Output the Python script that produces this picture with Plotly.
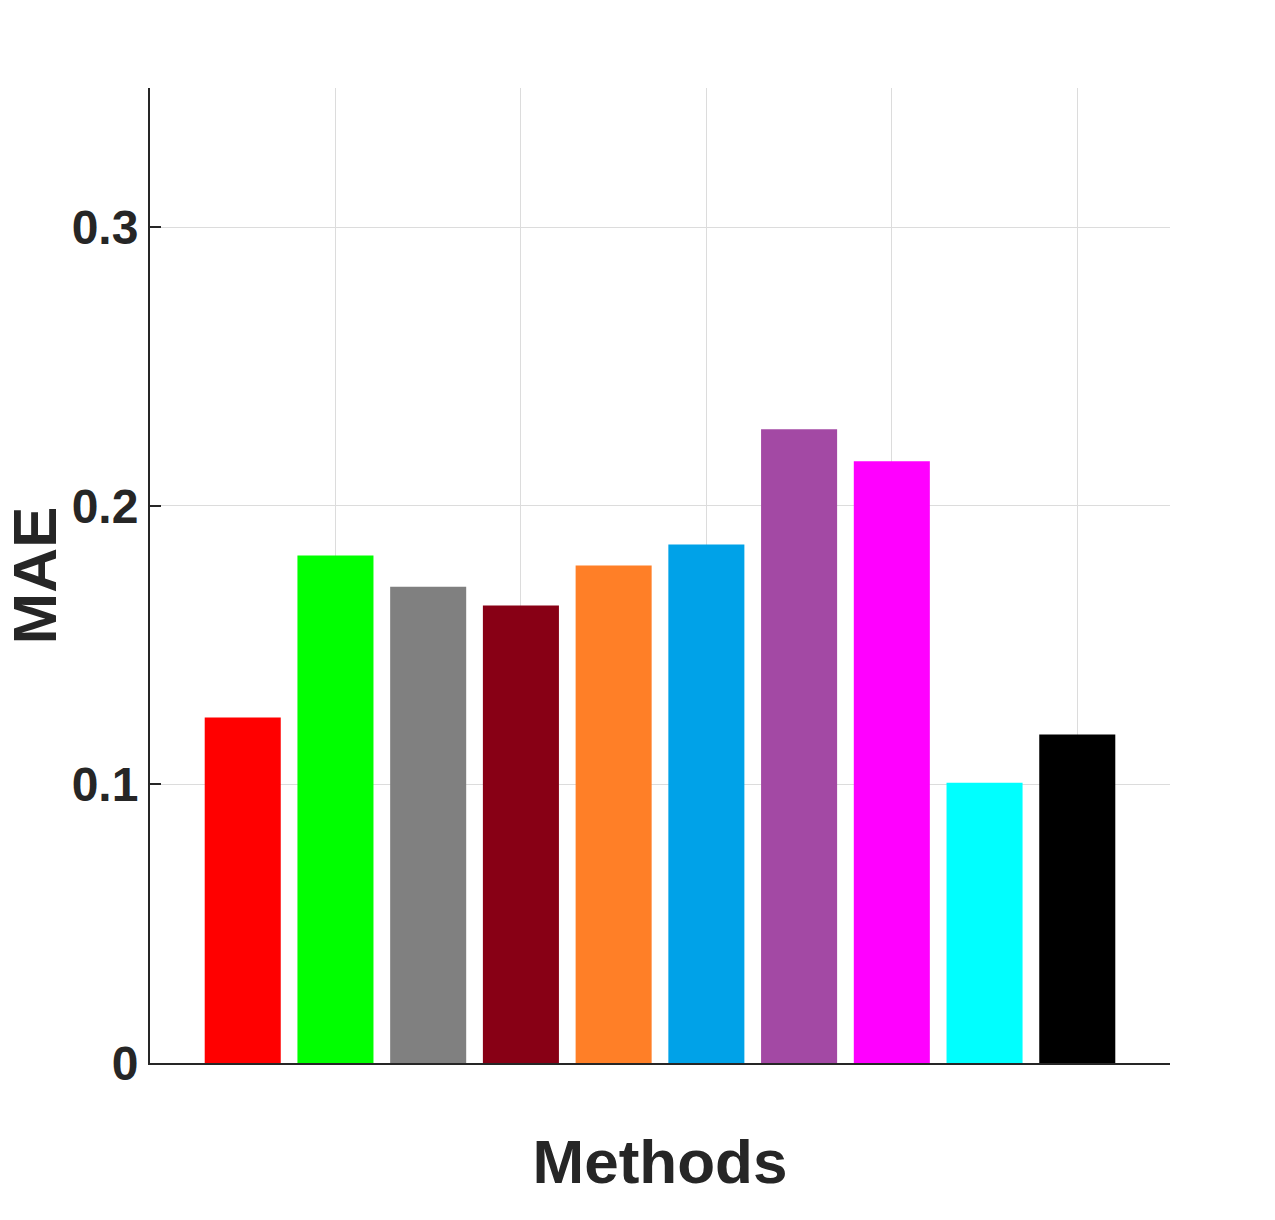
import plotly.graph_objects as go

methods = [1, 2, 3, 4, 5, 6, 7, 8, 9, 10]
mae = [0.124, 0.1822, 0.171, 0.1642, 0.1786, 0.1861, 0.2275, 0.216, 0.1006, 0.1179]
colors = ["#FF0000", "#00FF00", "#808080", "#880015", "#FF7F27",
          "#00A2E8", "#A349A4", "#FF00FF", "#00FFFF", "#000000"]
ytick_vals = [0, 0.1, 0.2, 0.3]
ytick_text = ["0", "0.1", "0.2", "0.3"]
xgrid_vals = [2, 4, 6, 8, 10]

fig = go.Figure(go.Bar(
    x=methods, y=mae, width=0.82,
    marker=dict(color=colors, line=dict(width=0)),
    showlegend=False,
))

font_family = "Liberation Sans, Arial, sans-serif"
fig.update_layout(
    width=1275, height=1220,
    margin=dict(l=150, r=105, t=88, b=157),
    plot_bgcolor="white", paper_bgcolor="white",
    font=dict(family=font_family, color="#262626"),
    xaxis=dict(
        range=[0, 11], tickvals=xgrid_vals, showticklabels=False,
        showgrid=True, gridcolor="#dcdcdc", gridwidth=1,
        showline=True, linecolor="#262626", linewidth=2,
        ticks="", zeroline=False, automargin=False,
        title=dict(text="<b>Methods</b>", font=dict(size=62, color="#262626"), standoff=76),
    ),
    yaxis=dict(
        range=[0, 0.35], tickvals=ytick_vals, ticktext=ytick_text,
        showgrid=True, gridcolor="#dcdcdc", gridwidth=1,
        showline=True, linecolor="#262626", linewidth=2,
        ticks="inside", ticklen=11, tickwidth=2, tickcolor="#262626",
        tickfont=dict(size=48, family=font_family, color="#262626", weight="bold"),
        zeroline=False, automargin=False,
        title=dict(text="<b>MAE</b>", font=dict(size=62, color="#262626"), standoff=26),
    ),
)

fig.write_html("out.html")
